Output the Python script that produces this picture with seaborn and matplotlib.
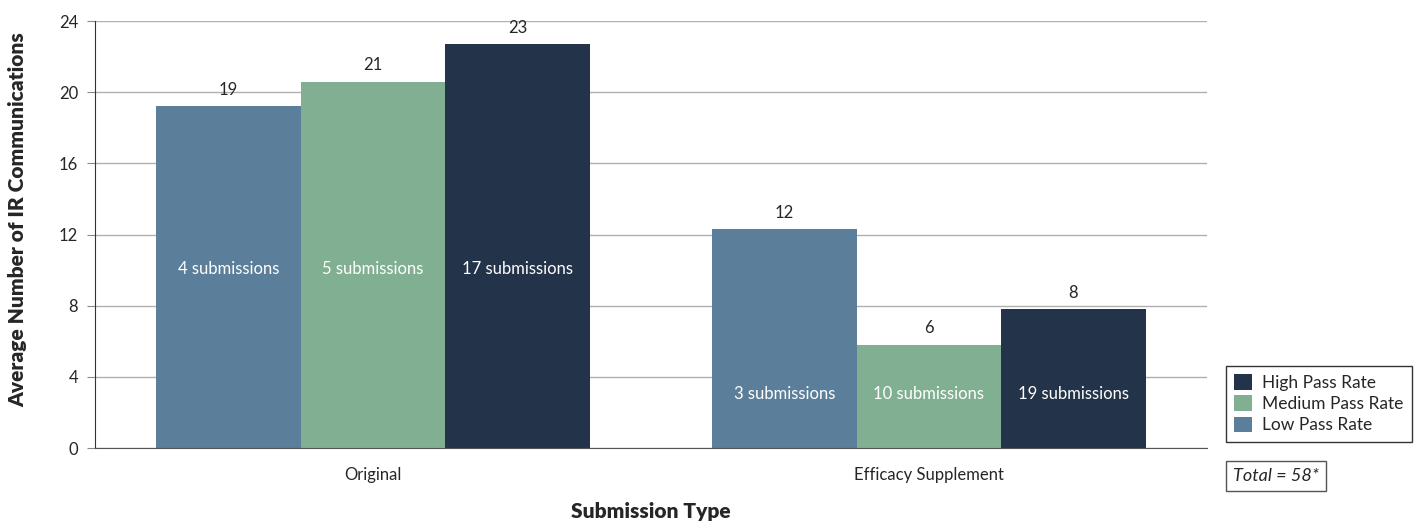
import pandas as pd
import matplotlib.pyplot as plt
import seaborn as sns

# chart data
categories = ["Original", "Efficacy Supplement"]
pass_rates = ["Low Pass Rate", "Medium Pass Rate", "High Pass Rate"]
low_values = [19.2, 12.3]
medium_values = [20.6, 5.8]
high_values = [22.7, 7.8]
low_counts = [4, 3]
medium_counts = [5, 10]
high_counts = [17, 19]
total_label = "Total = 58*"

colors = {"Low Pass Rate": "#5b7e9a", "Medium Pass Rate": "#80b091", "High Pass Rate": "#23344a"}

rows = []
for rate, vals, counts in zip(pass_rates, [low_values, medium_values, high_values],
                              [low_counts, medium_counts, high_counts]):
    for cat, v, n in zip(categories, vals, counts):
        rows.append({"Submission Type": cat, "Rate": rate, "Value": v, "Count": n})
data = pd.DataFrame(rows)

sns.set_style("white")
plt.rcParams["font.family"] = ["Lato", "DejaVu Sans"]

fig = plt.figure(figsize=(14.22, 5.23), dpi=100)
ax = fig.add_axes([0.0668, 0.1434, 0.782, 0.8164])

sns.barplot(data=data, x="Submission Type", y="Value", hue="Rate", order=categories,
            hue_order=pass_rates, palette=colors, width=0.78, saturation=1,
            edgecolor="none", ax=ax, legend=True)

ax.set_ylim(0, 24)
ax.set_yticks(range(0, 25, 4))
ax.yaxis.grid(True, color="#b0b0b0", linewidth=1)
ax.set_axisbelow(True)
for s in ["top", "right"]:
    ax.spines[s].set_visible(False)
ax.spines["left"].set_color("#333333")
ax.spines["bottom"].set_color("#555555")
ax.tick_params(axis="y", left=True, length=6, color="#888888", labelsize=12, pad=6)
ax.tick_params(axis="x", bottom=False, labelsize=12, pad=10)
ax.set_xlabel("Submission Type", fontsize=15, fontweight="heavy", labelpad=14)
ax.set_ylabel("Average Number of IR Communications", fontsize=15, fontweight="heavy")
ax.yaxis.set_label_coords(-0.061, 0.534)

# value labels above, submission counts inside
for cont, rate in zip(ax.containers, pass_rates):
    sub = data[data["Rate"] == rate].set_index("Submission Type").loc[categories]
    ax.bar_label(cont, labels=[f"{round(v):d}" for v in sub["Value"]], padding=6, fontsize=12)

for i, cat in enumerate(categories):
    grp = data[data["Submission Type"] == cat]
    y_in = grp["Value"].min() * 0.525
    for cont, rate in zip(ax.containers, pass_rates):
        bar = cont.patches[i]
        n = grp[grp["Rate"] == rate]["Count"].iloc[0]
        ax.text(bar.get_x() + bar.get_width() / 2, y_in, f"{n} submissions",
                ha="center", va="center", color="white", fontsize=12)

handles, labels = ax.get_legend_handles_labels()
ax.legend(handles[::-1], labels[::-1], loc="lower left", bbox_to_anchor=(0.862, 0.155),
          bbox_transform=fig.transFigure, borderaxespad=0, frameon=True, fancybox=False,
          edgecolor="black", fontsize=12.5, handlelength=1.0, handleheight=1.0,
          handletextpad=0.6, labelspacing=0.25, borderpad=0.5)

fig.text(0.867, 0.09, total_label, fontsize=13, style="italic", va="center", ha="left",
         bbox=dict(boxstyle="square,pad=0.4", facecolor="white", edgecolor="#555555"))

fig.savefig("out.png", dpi=100)
